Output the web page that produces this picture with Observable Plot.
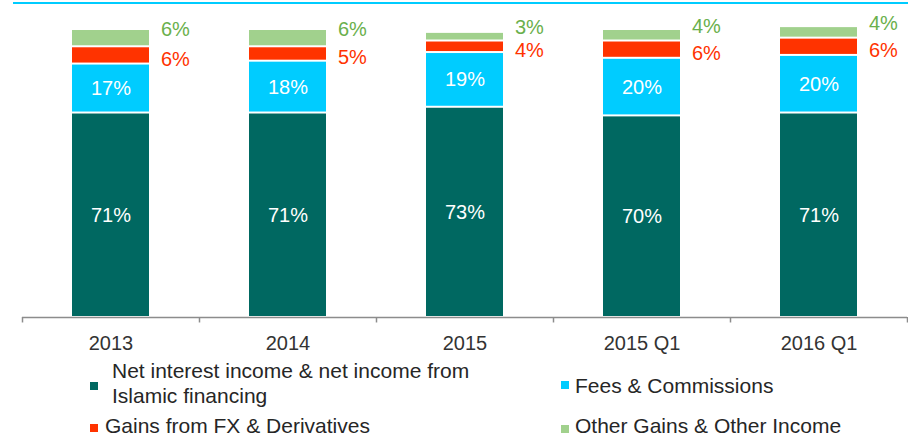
<!DOCTYPE html>
<html>
<head>
<meta charset="utf-8">
<script src="https://cdn.jsdelivr.net/npm/d3@7"></script>
<script src="https://cdn.jsdelivr.net/npm/@observablehq/plot@0.6"></script>
<style>
  html, body { margin: 0; padding: 0; background: #fff; }
  #wrap { position: relative; width: 908px; height: 439px; overflow: hidden; font-family: "Liberation Sans", Arial, sans-serif; }
  #topline { position: absolute; left: 13px; top: 1.5px; width: 895px; height: 2.5px; background: #00CCFF; }
  .leg { position: absolute; font-size: 21px; line-height: 25px; color: #262626; }
  .sw { position: absolute; width: 8px; height: 8px; }
</style>
</head>
<body>
<div id="wrap">
  <div id="chart"></div>
  <div id="topline"></div>
</div>
<script>
const categories = ["2013", "2014", "2015", "2015 Q1", "2016 Q1"];
const series = [
  "Net interest income & net income from Islamic financing",
  "Fees & Commissions",
  "Gains from FX & Derivatives",
  "Other Gains & Other Income"
];
const netInterest = [71, 71, 73, 70, 71];
const fees = [17, 18, 19, 20, 20];
const fxGains = [6, 5, 4, 6, 6];
const otherGains = [6, 6, 3, 4, 4];
const colors = ["#006861", "#00CCFF", "#FF3300", "#A1D18D"];

const valueArrays = [netInterest, fees, fxGains, otherGains];
const data = categories.flatMap((c, i) =>
  valueArrays.map((arr, k) => ({category: c, series: series[k], k, value: arr[i]}))
);

const stackOpts = {x: "category", y: "value", z: "series", order: series};

const chart = Plot.plot({
  width: 908,
  height: 360,
  marginTop: 29,
  marginBottom: 43,
  marginLeft: 22,
  marginRight: 1,
  style: {fontFamily: "Liberation Sans, Arial, sans-serif", fontSize: "20px", color: "#333"},
  x: {domain: categories, paddingInner: 0.565, paddingOuter: 0.2825, label: null, tickSize: 0, tickPadding: 18},
  y: {domain: [0, 100], axis: null},
  color: {domain: series, range: colors},
  marks: [
    Plot.barY(data, {...stackOpts, fill: "series", insetTop: 1, insetBottom: 1}),
    Plot.text(data, Plot.stackY({...stackOpts, text: d => d.k < 2 ? d.value + "%" : null, fill: "white", fontSize: 20})),
    Plot.text(data, Plot.stackY({...stackOpts, text: d => d.k === 2 ? d.value + "%" : null, fill: "#FF3300", fontSize: 20, textAnchor: "start", dx: 50, dy: 4})),
    Plot.text(data, Plot.stackY({...stackOpts, text: d => d.k === 3 ? d.value + "%" : null, fill: "#6AB04C", fontSize: 20, textAnchor: "start", dx: 50, dy: -9})),
    Plot.ruleY([0], {stroke: "#8c8c8c", strokeWidth: 1.5}),
    Plot.ruleX(categories, {x: d => d, dx: -88.5, y1: 0, y2: -1.9, stroke: "#8c8c8c", strokeWidth: 1.5}),
    Plot.ruleX(categories.slice(-1), {x: d => d, dx: 88.5, y1: 0, y2: -1.9, stroke: "#8c8c8c", strokeWidth: 1.5})
  ]
});
document.getElementById("chart").appendChild(chart);

// legend (layout positions only)
const legendLayout = [
  {sx: 90, sy: 382, tx: 112, ty: 357.5, w: 385},
  {sx: 561, sy: 381, tx: 575, ty: 372.5, w: 330},
  {sx: 90, sy: 424, tx: 105, ty: 412.5, w: 420},
  {sx: 561, sy: 425, tx: 575, ty: 412.5, w: 330}
];
const wrap = document.getElementById("wrap");
series.forEach((name, i) => {
  const L = legendLayout[i];
  const sw = document.createElement("div");
  sw.className = "sw";
  sw.style.left = L.sx + "px";
  sw.style.top = L.sy + "px";
  sw.style.background = colors[i];
  wrap.appendChild(sw);
  const t = document.createElement("div");
  t.className = "leg";
  t.style.left = L.tx + "px";
  t.style.top = L.ty + "px";
  t.style.width = L.w + "px";
  t.textContent = name;
  wrap.appendChild(t);
});
</script>
</body>
</html>
